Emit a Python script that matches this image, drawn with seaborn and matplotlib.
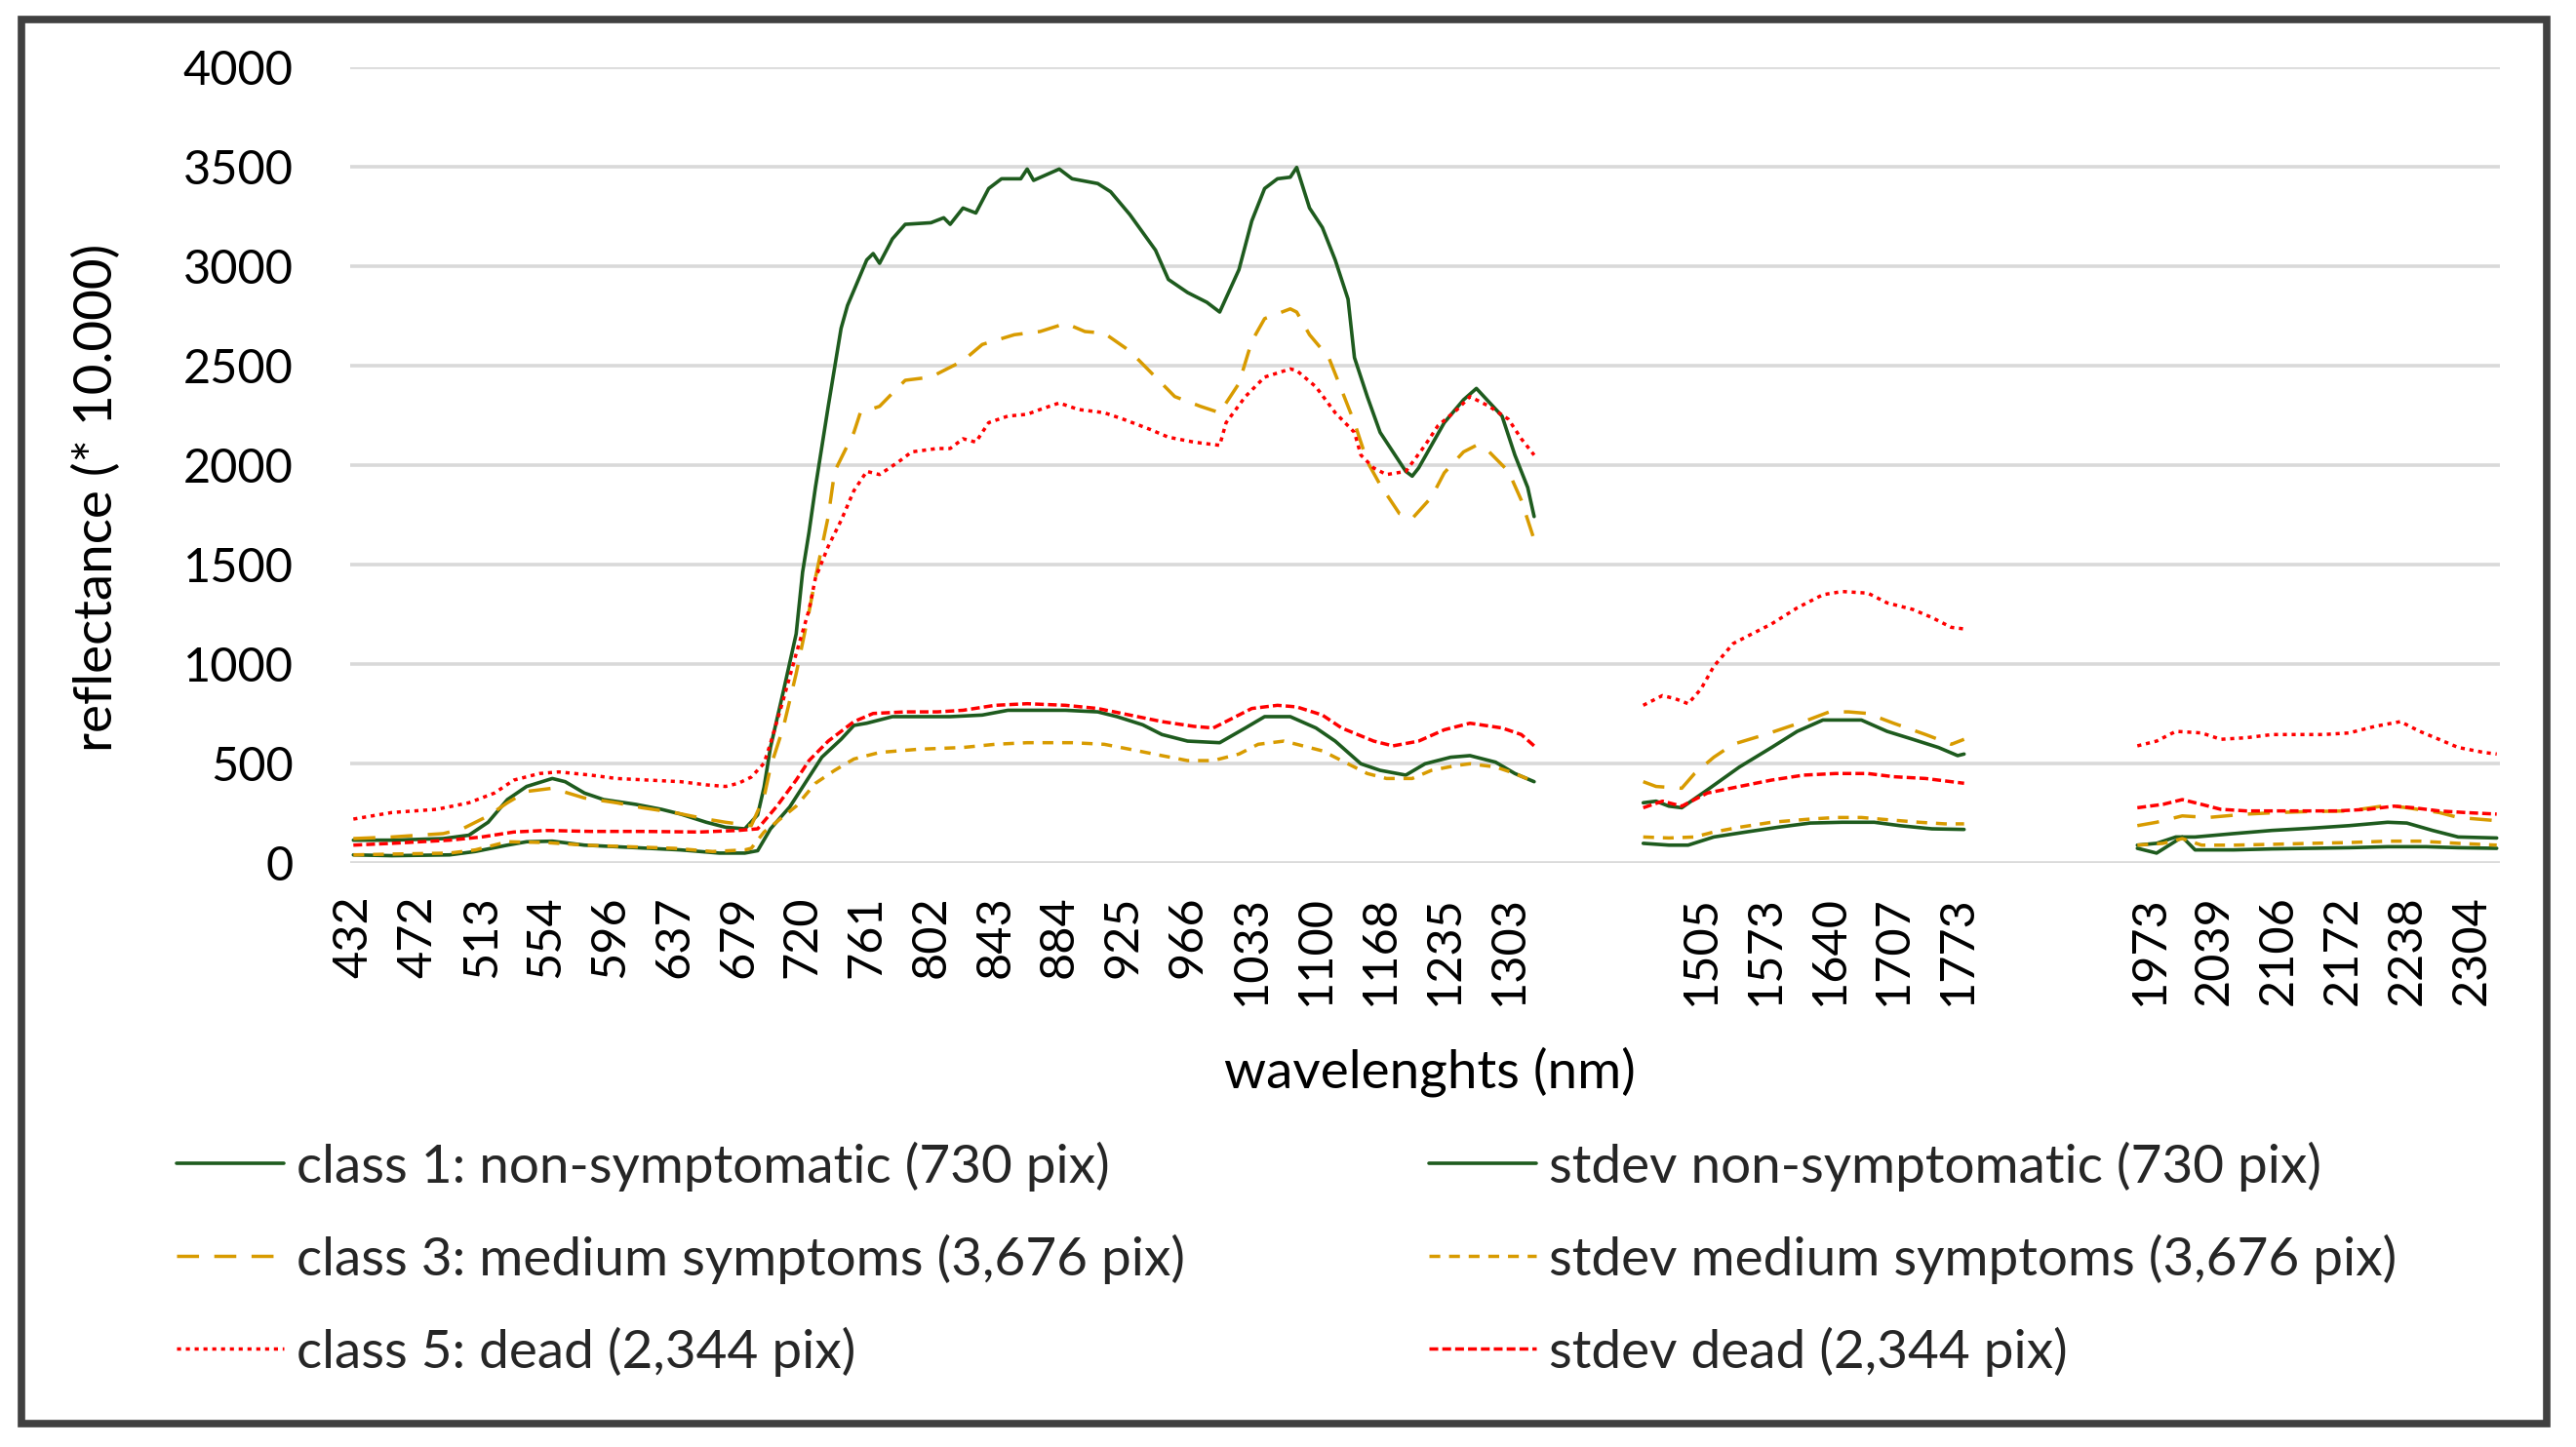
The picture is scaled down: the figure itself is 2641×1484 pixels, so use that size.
import numpy as np
import pandas as pd
import matplotlib
matplotlib.use("Agg")
import matplotlib.pyplot as plt
import seaborn as sns
from matplotlib.lines import Line2D
from matplotlib.patches import Rectangle

# ---------------- data ----------------
# x axis = band (category) index; labels every 10th band, water-absorption bands blank
tick_bands = [0, 10, 20, 30, 40, 50, 60, 70, 80, 90, 100, 110, 120, 130, 140, 150, 160, 170, 180,
              210, 220, 230, 240, 250,
              280, 290, 300, 310, 320, 330]
tick_labels = ["432", "472", "513", "554", "596", "637", "679", "720", "761", "802", "843", "884",
               "925", "966", "1033", "1100", "1168", "1235", "1303",
               "1505", "1573", "1640", "1707", "1773",
               "1973", "2039", "2106", "2172", "2238", "2304"]
n_bands = 335

# class 1: non-symptomatic (mean)
c1_band = [0, 6, 14, 18, 21, 24, 27, 31, 33, 36, 39, 44, 48, 51, 55, 58, 61, 63, 64, 65, 67, 69, 70, 71, 72,
           74, 76, 77, 80, 81, 82, 84, 86, 90, 92, 93, 95, 97, 99, 101, 104, 105, 106, 110, 112, 116, 118,
           121, 125, 127, 130, 133, 135, 138, 140, 142, 144, 146, 147, 149, 151, 153, 155, 156, 158, 160,
           164, 165, 166, 170, 173, 175, 179, 181, 183, 184,
           201, 203, 205, 207, 211, 216, 221, 225, 229, 235, 239, 243, 247, 250, 251,
           278, 281, 284, 287, 293, 299, 305, 311, 317, 320, 324, 328, 334]
c1_val = [113, 113, 121, 138, 203, 317, 383, 423, 407, 350, 317, 293, 268, 244, 203, 178, 170, 240, 380, 580,
          860, 1150, 1460, 1660, 1886,
          2294, 2686, 2801, 3030, 3062, 3013, 3136, 3209, 3217, 3242, 3209, 3291, 3266, 3389, 3438, 3438,
          3487, 3430, 3487, 3438, 3414, 3373,
          3258, 3079, 2932, 2866, 2817, 2768, 2981, 3226, 3389, 3438, 3446, 3495, 3291, 3193, 3030, 2833,
          2539, 2343, 2163,
          1967, 1943, 1984, 2212, 2327, 2384, 2245, 2049, 1886, 1740,
          301, 309, 284, 276, 366, 481, 579, 660, 717, 717, 660, 620, 579, 538, 546,
          88, 97, 129, 129, 146, 162, 173, 186, 203, 199, 162, 129, 124]

# class 3: medium symptoms (mean)
c3_band = [0, 6, 14, 17, 21, 24, 27, 31, 36, 41, 45, 50, 55, 58, 62, 64, 65, 67, 69, 71, 72, 74, 75, 78, 79,
           82, 84, 86, 90, 92, 95, 98, 103, 107, 111, 114, 117, 121, 125, 128, 132, 135, 138, 140, 142, 146,
           147, 149, 152, 154, 156, 158, 160, 163, 165, 168, 170, 173, 175, 177, 180, 182, 184,
           201, 203, 207, 209, 212, 215, 220, 226, 230, 233, 236, 240, 245, 249, 251,
           278, 281, 285, 289, 295, 300, 305, 311, 317, 320, 325, 328, 334]
c3_val = [121, 129, 146, 170, 235, 301, 358, 374, 325, 301, 276, 252, 219, 203, 186, 330, 480, 680, 950, 1260,
          1430, 1740, 1967, 2163, 2262,
          2294, 2360, 2425, 2441, 2474, 2523, 2605, 2654, 2670, 2711, 2670, 2662, 2572, 2441, 2343, 2294,
          2262, 2409, 2621, 2735, 2784,
          2768, 2654, 2539, 2376, 2212, 2016, 1900, 1755, 1730, 1837, 1960, 2065, 2098, 2065, 1967, 1822, 1624,
          407, 383, 374, 448, 530, 595, 644, 709, 758, 758, 750, 701, 644, 595, 620,
          186, 203, 235, 227, 244, 252, 257, 260, 288, 276, 252, 227, 211]

# class 5: dead (mean)
c5_band = [0, 6, 13, 18, 22, 25, 29, 32, 37, 41, 46, 51, 55, 58, 60, 62, 64, 65, 67, 69, 71, 72, 74, 76, 78,
           80, 82, 85, 87, 91, 93, 95, 97, 99, 102, 105, 107, 110, 113, 117, 120, 124, 127, 131, 135, 136,
           139, 142, 146, 147, 150, 153, 156, 157, 159, 161, 164, 167, 169, 172, 174, 177, 180, 182, 184,
           201, 204, 206, 208, 210, 212, 215, 218, 221, 225, 229, 232, 236, 239, 243, 246, 249, 251,
           278, 281, 284, 288, 291, 295, 299, 303, 307, 311, 315, 319, 322, 325, 328, 332, 334]
c5_val = [219, 252, 268, 301, 350, 415, 448, 456, 440, 423, 415, 407, 391, 383, 399, 430, 500, 600, 820, 1050,
          1270, 1430, 1590, 1720, 1870,
          1967, 1951, 2016, 2065, 2082, 2082, 2131, 2114, 2212, 2245, 2254, 2278, 2311, 2278, 2262, 2229,
          2180, 2139, 2114, 2098, 2212,
          2343, 2441, 2482, 2474, 2392, 2262, 2163, 2049, 1984, 1951, 1967, 2098, 2196, 2278, 2343, 2294,
          2229, 2131, 2049,
          791, 840, 824, 799, 873, 987, 1101, 1151, 1200, 1281, 1347, 1363, 1355, 1306, 1273, 1232, 1183, 1175,
          587, 611, 660, 652, 620, 628, 644, 644, 644, 652, 685, 709, 660, 620, 579, 554, 546]

# stdev non-symptomatic
s1_band = [0, 6, 15, 19, 24, 27, 31, 36, 41, 46, 51, 57, 61, 63, 65, 68, 71, 73, 76, 78, 80, 84, 89, 93, 98,
           102, 106, 111, 116, 119, 123, 126, 130, 135, 139, 142, 146, 150, 153, 157, 160, 164, 167, 171,
           174, 178, 181, 184,
           201, 205, 208, 212, 217, 222, 227, 232, 237, 241, 246, 251,
           278, 281, 285, 287, 293, 299, 305, 311, 317, 323, 328, 334]
s1_val = [39, 35, 39, 56, 88, 105, 108, 88, 80, 72, 64, 48, 48, 60, 170, 280, 430, 530, 620, 690, 701, 734,
          734, 734, 742,
          766, 766, 766, 758, 734, 693, 644, 611, 603, 677, 734, 734, 677, 611, 497, 464, 440, 497, 530,
          538, 505, 448, 407,
          97, 88, 88, 129, 154, 178, 199, 203, 203, 186, 170, 167,
          72, 48, 129, 64, 64, 69, 72, 75, 80, 80, 75, 72]

# stdev medium symptoms
s3_band = [0, 6, 15, 19, 24, 30, 36, 43, 50, 56, 61, 62, 64, 69, 72, 75, 78, 82, 88, 95, 100, 105, 112, 117,
           121, 126, 130, 134, 138, 141, 145, 147, 151, 154, 158, 161, 165, 168, 172, 174, 178, 181, 184,
           201, 205, 209, 212, 216, 221, 227, 231, 235, 239, 244, 248, 251,
           278, 282, 285, 288, 293, 299, 305, 311, 317, 322, 328, 334]
s3_val = [39, 43, 48, 64, 105, 101, 88, 80, 72, 56, 64, 72, 154, 284, 399, 464, 521, 554, 570, 579, 595, 603,
          603, 595,
          570, 538, 513, 513, 546, 595, 611, 595, 562, 513, 448, 423, 423, 464, 489, 497, 481, 448, 407,
          129, 124, 129, 154, 178, 203, 219, 227, 227, 216, 203, 195, 195,
          88, 97, 121, 88, 88, 92, 97, 101, 108, 108, 97, 88]

# stdev dead
s5_band = [0, 6, 15, 20, 25, 30, 37, 45, 54, 60, 63, 66, 69, 71, 74, 78, 81, 86, 91, 95, 100, 105, 111, 116,
           121, 126, 131, 134, 137, 140, 144, 147, 151, 154, 159, 162, 166, 170, 174, 179, 182, 184,
           201, 204, 207, 211, 216, 221, 226, 231, 236, 240, 245, 249, 251,
           278, 282, 285, 288, 291, 295, 299, 304, 309, 314, 318, 321, 325, 329, 334]
s5_val = [88, 97, 113, 129, 154, 162, 157, 157, 154, 162, 170, 284, 415, 513, 611, 709, 750, 758, 758, 766,
          791, 799, 791, 775,
          742, 709, 685, 677, 726, 775, 791, 783, 742, 677, 611, 587, 611, 668, 701, 677, 644, 587,
          276, 309, 284, 350, 383, 415, 440, 448, 448, 432, 423, 407, 399,
          276, 293, 317, 293, 268, 260, 260, 260, 260, 268, 284, 276, 260, 252, 244]

GREEN = "#1E5B1E"
GOLD = "#D89B00"
RED = "#FF0000"

series = [
    ("class 1: non-symptomatic (730 pix)", c1_band, c1_val, GREEN, "-", 2.6),
    ("class 3: medium symptoms (3,676 pix)", c3_band, c3_val, GOLD, (0, (6.5, 4.5)), 2.5),
    ("class 5: dead (2,344 pix)", c5_band, c5_val, RED, (0, (1.2, 1.4)), 2.5),
    ("stdev non-symptomatic (730 pix)", s1_band, s1_val, GREEN, "-", 2.6),
    ("stdev medium symptoms (3,676 pix)", s3_band, s3_val, GOLD, (0, (3.2, 2.6)), 2.5),
    ("stdev dead (2,344 pix)", s5_band, s5_val, RED, (0, (2.6, 1.2)), 2.5),
]

# ---------------- figure ----------------
sns.set_style("white")
plt.rcParams["font.family"] = ["Lato", "DejaVu Sans"]
FS_TICK = 35
FS_TEXT = 39.5

W, H = 2641, 1484
fig = plt.figure(figsize=(W / 100, H / 100), dpi=100)
L, R, T, B = 359, 2563, 68.7, 884.7
ax = fig.add_axes([L / W, 1 - B / H, (R - L) / W, (B - T) / H])

for label, band, val, color, ls, lw in series:
    df = pd.DataFrame({"band": band, "value": val})
    df["segment"] = (df["band"].diff() > 12).cumsum()
    n0 = len(ax.lines)
    sns.lineplot(data=df, x="band", y="value", units="segment", estimator=None,
                 color=color, linewidth=lw, ax=ax, sort=False)
    for ln in ax.lines[n0:]:
        ln.set_linestyle(ls)

ax.set_xlim(-0.5, n_bands - 0.5)
ax.set_ylim(0, 4000)
ax.set_yticks(np.arange(0, 4001, 500))
ax.set_yticklabels([str(v) for v in range(0, 4001, 500)])
ax.set_xticks(tick_bands)
ax.set_xticklabels(tick_labels, rotation=90)
ax.grid(axis="y", color="#D9D9D9", linewidth=2.6)
ax.grid(axis="x", visible=False)
ax.set_axisbelow(True)
for sp in ax.spines.values():
    sp.set_visible(False)
ax.tick_params(axis="both", length=0, labelsize=FS_TICK, colors="black")
ax.tick_params(axis="y", pad=42)
ax.tick_params(axis="x", pad=24)
ax.set_xlabel("")
ax.set_ylabel("")

fig.text(99 / W, 1 - 510 / H, "reflectance (* 10.000)", rotation=90, ha="center", va="center",
         fontsize=FS_TEXT, color="black")
fig.text(1466 / W, 1 - 1099 / H, "wavelenghts (nm)", ha="center", va="center", fontsize=FS_TEXT,
         color="black")

# legends (two columns)
def make_handles(items):
    return [Line2D([0], [0], color=c, linestyle=ls, linewidth=lw) for (_, _, _, c, ls, lw) in items]

for items, x0 in ((series[:3], 181), (series[3:], 1465)):
    fig.legend(handles=make_handles(items), labels=[it[0] for it in items],
               loc="center left", bbox_to_anchor=(x0 / W, 1 - 1291 / H),
               frameon=False, fontsize=FS_TEXT, handlelength=2.0, handletextpad=0.25,
               labelspacing=0.80, borderpad=0, borderaxespad=0)

fig.patches.append(Rectangle((21.5 / W, 1 - 1460 / H), (2611 - 21.5) / W, (1460 - 19.5) / H,
                             transform=fig.transFigure, fill=False, edgecolor="#404040",
                             linewidth=5.5))

fig.savefig("out.png", dpi=100, facecolor="white")
